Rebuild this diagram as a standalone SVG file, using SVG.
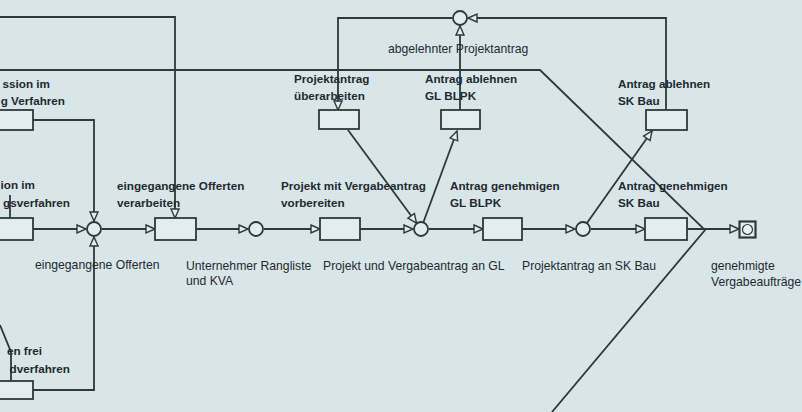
<svg xmlns="http://www.w3.org/2000/svg" width="802" height="412" viewBox="0 0 802 412">
<style>
.bg{fill:#d8e5e9}
.box{fill:#e3edf0;stroke:#2c393d;stroke-width:1.8}
.ev{fill:#e3edf0;stroke:#2c393d;stroke-width:1.8}
.ln{fill:none;stroke:#2c393d;stroke-width:1.8}
.lb{font-family:"Liberation Sans",Arial,sans-serif;font-size:11.7px;font-weight:bold;fill:#1f2a2e}
.lr{font-family:"Liberation Sans",Arial,sans-serif;font-size:12.2px;fill:#1f2a2e}
</style>
<defs>
<marker id="ar" markerUnits="userSpaceOnUse" markerWidth="10" markerHeight="9" refX="9" refY="4" orient="auto" overflow="visible">
<path d="M0,0 L9,4 L0,8 Z" fill="#e3edf0" stroke="#2c393d" stroke-width="1.4"/>
</marker>
</defs>
<rect class="bg" x="0" y="0" width="802" height="412"/>

<g id="connectors">
<path class="ln" d="M0,17 H175 V218" marker-end="url(#ar)"/>
<path class="ln" d="M0,70 H540 L705,230 L552,412"/>
<path class="ln" d="M33,120 H94 V221" marker-end="url(#ar)"/>
<path class="ln" d="M33,390 H94 V237" marker-end="url(#ar)"/>
<path class="ln" d="M10,195 V218"/>
<path class="ln" d="M0,325 L11,352 V381"/>
<path class="ln" d="M33,229 H86" marker-end="url(#ar)"/>
<path class="ln" d="M102,229 H155" marker-end="url(#ar)"/>
<path class="ln" d="M196,229 H248" marker-end="url(#ar)"/>
<path class="ln" d="M264,229 H320" marker-end="url(#ar)"/>
<path class="ln" d="M360,229 H413" marker-end="url(#ar)"/>
<path class="ln" d="M429,229 H483" marker-end="url(#ar)"/>
<path class="ln" d="M522,229 H575" marker-end="url(#ar)"/>
<path class="ln" d="M591,229 H645" marker-end="url(#ar)"/>
<path class="ln" d="M687,229 H739" marker-end="url(#ar)"/>
<path class="ln" d="M666,110 V18 H468" marker-end="url(#ar)"/>
<path class="ln" d="M460,110 V26" marker-end="url(#ar)"/>
<path class="ln" d="M452,18 H338 V110" marker-end="url(#ar)"/>
<path class="ln" d="M348,130 L416.5,223" marker-end="url(#ar)"/>
<path class="ln" d="M423.5,222 L457,131" marker-end="url(#ar)"/>
<path class="ln" d="M587,223 L652,131" marker-end="url(#ar)"/>
</g>

<g id="n_left_top">
<rect class="box" x="-5" y="110" width="38" height="20"/>
<text class="lb" x="50" y="88" text-anchor="end">ssion im</text>
<text class="lb" x="65" y="105" text-anchor="end">g Verfahren</text>
</g>
<g id="n_left_mid">
<rect class="box" x="-5" y="218" width="38" height="22"/>
<text class="lb" x="35" y="189" text-anchor="end">ion im</text>
<text class="lb" x="70" y="207" text-anchor="end">gsverfahren</text>
</g>
<g id="n_left_bot">
<rect class="box" x="-5" y="381" width="38" height="18"/>
<text class="lb" x="42" y="355" text-anchor="end">en frei</text>
<text class="lb" x="70" y="373" text-anchor="end">dverfahren</text>
</g>
<g id="e_offerten">
<circle class="ev" cx="94" cy="229" r="7"/>
<text class="lr" x="35" y="269">eingegangene Offerten</text>
</g>
<g id="f_offerten">
<rect class="box" x="155" y="218" width="41" height="22"/>
<text class="lb" x="117" y="190">eingegangene Offerten</text>
<text class="lb" x="117" y="207">verarbeiten</text>
</g>
<g id="e_rangliste">
<circle class="ev" cx="256" cy="229" r="7"/>
<text class="lr" x="186" y="270">Unternehmer Rangliste</text>
<text class="lr" x="186" y="285">und KVA</text>
</g>
<g id="f_projekt">
<rect class="box" x="320" y="218" width="40" height="22"/>
<text class="lb" x="281" y="190">Projekt mit Vergabeantrag</text>
<text class="lb" x="281" y="207">vorbereiten</text>
</g>
<g id="e_gl">
<circle class="ev" cx="421" cy="229" r="7"/>
<text class="lr" x="323" y="270">Projekt und Vergabeantrag an GL</text>
</g>
<g id="f_gl">
<rect class="box" x="483" y="218" width="39" height="22"/>
<text class="lb" x="450" y="190">Antrag genehmigen</text>
<text class="lb" x="450" y="207">GL BLPK</text>
</g>
<g id="e_skbau">
<circle class="ev" cx="583" cy="229" r="7"/>
<text class="lr" x="522" y="270">Projektantrag an SK Bau</text>
</g>
<g id="f_skbau">
<rect class="box" x="645" y="218" width="42" height="22"/>
<text class="lb" x="618" y="190">Antrag genehmigen</text>
<text class="lb" x="618" y="207">SK Bau</text>
</g>
<g id="e_end">
<rect x="739.5" y="221.5" width="16" height="16" fill="#e3edf0" stroke="#2c393d" stroke-width="2.2"/>
<circle cx="747.5" cy="229.5" r="5" fill="#eef4f5" stroke="#2c393d" stroke-width="1.2"/>
<text class="lr" x="711" y="270">genehmigte</text>
<text class="lr" x="711" y="286">Vergabeaufträge</text>
</g>
<g id="e_abgelehnt">
<circle class="ev" cx="460" cy="18" r="7"/>
<text class="lr" x="388" y="53">abgelehnter Projektantrag</text>
</g>
<g id="f_ueberarbeiten">
<rect class="box" x="319" y="110" width="40" height="19"/>
<text class="lb" x="294" y="83">Projektantrag</text>
<text class="lb" x="294" y="100">überarbeiten</text>
</g>
<g id="f_ablehnen_gl">
<rect class="box" x="441" y="110" width="39" height="19"/>
<text class="lb" x="425" y="83">Antrag ablehnen</text>
<text class="lb" x="425" y="100">GL BLPK</text>
</g>
<g id="f_ablehnen_sk">
<rect class="box" x="646" y="110" width="41" height="20"/>
<text class="lb" x="618" y="88">Antrag ablehnen</text>
<text class="lb" x="618" y="105">SK Bau</text>
</g>
</svg>
